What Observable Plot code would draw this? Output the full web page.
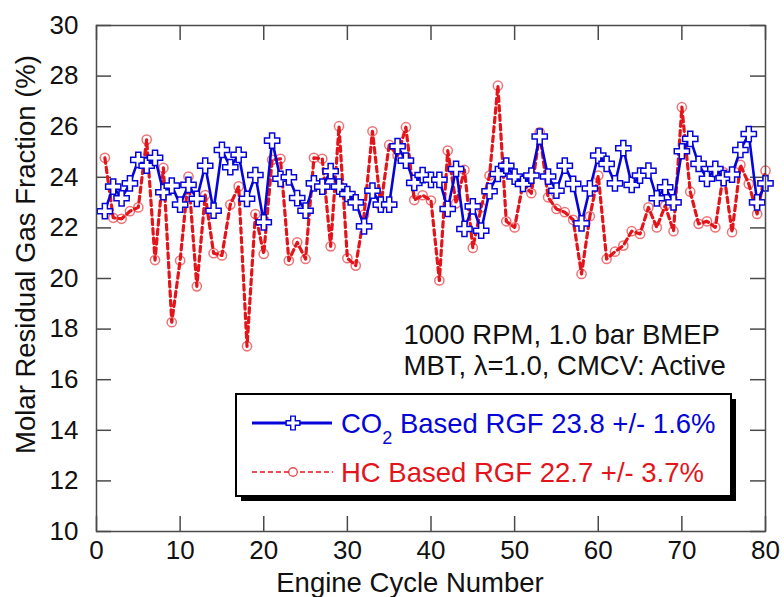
<!DOCTYPE html>
<html>
<head>
<meta charset="utf-8">
<script src="https://cdn.jsdelivr.net/npm/d3@7"></script>
<script src="https://cdn.jsdelivr.net/npm/@observablehq/plot@0.6"></script>
<style>
  html, body { margin: 0; padding: 0; background: #fff; }
  #wrap { position: relative; width: 784px; height: 597px; overflow: hidden; }
  #wrap svg { display: block; }
  #overlay { position: absolute; left: 0; top: 0; pointer-events: none; }
</style>
</head>
<body>
<div id="wrap"></div>
<script>
// ---- data ----
const cycles = [1,2,3,4,5,6,7,8,9,10,11,12,13,14,15,16,17,18,19,20,
  21,22,23,24,25,26,27,28,29,30,31,32,33,34,35,36,37,38,39,40,
  41,42,43,44,45,46,47,48,49,50,51,52,53,54,55,56,57,58,59,60,
  61,62,63,64,65,66,67,68,69,70,71,72,73,74,75,76,77,78,79,80];

const co2Rgf = [22.66, 23.63, 23.17, 23.76, 24.69, 24.46, 24.77, 23.41, 23.67, 22.92,
  23.70, 23.15, 24.46, 22.68, 25.08, 24.40, 24.89, 23.15, 24.09, 22.22,
  25.45, 23.94, 24.00, 23.18, 22.68, 23.76, 23.63, 24.24, 23.63, 23.34,
  23.01, 22.06, 23.47, 22.92, 22.92, 25.23, 24.66, 23.78, 24.09, 23.90,
  23.90, 22.75, 24.33, 21.96, 22.85, 21.89, 23.45, 24.13, 24.46, 24.03,
  23.74, 24.07, 25.61, 24.03, 23.47, 24.46, 23.74, 22.18, 23.56, 24.86,
  24.53, 23.76, 25.15, 23.70, 24.07, 24.26, 23.17, 23.61, 23.01, 25.03,
  25.52, 24.53, 23.94, 24.33, 23.97, 24.11, 25.08, 25.71, 23.01, 23.76];

const hcRgf = [24.77, 22.40, 22.36, 22.66, 22.81, 25.49, 20.73, 24.37, 18.27, 20.71,
  24.03, 19.69, 23.30, 21.00, 20.91, 22.92, 23.64, 17.32, 22.55, 20.97,
  24.69, 24.73, 20.71, 21.43, 20.77, 24.77, 24.73, 21.27, 26.02, 20.80,
  20.51, 22.53, 25.82, 22.88, 25.28, 24.86, 25.98, 23.10, 23.29, 23.08,
  19.92, 25.06, 22.97, 24.29, 21.21, 22.81, 24.07, 27.62, 22.26, 22.02,
  23.76, 23.37, 25.78, 23.21, 22.75, 22.62, 22.32, 20.18, 22.46, 24.07,
  20.77, 21.06, 21.30, 21.87, 21.76, 22.81, 22.02, 22.88, 21.87, 26.77,
  23.43, 22.16, 22.26, 22.02, 24.20, 21.83, 24.49, 23.74, 22.55, 24.26];

const xTicks = [0, 10, 20, 30, 40, 50, 60, 70, 80];
const yTicks = [10, 12, 14, 16, 18, 20, 22, 24, 26, 28, 30];
const xTitle = "Engine Cycle Number";
const yTitle = "Molar Residual Gas Fraction (%)";
const noteText = "1000 RPM, 1.0 bar BMEP\nMBT, \u03bb=1.0, CMCV: Active";
const co2Label = ["CO", "2", " Based RGF 23.8 +/- 1.6%"];
const hcLabel = "HC Based RGF 22.7 +/- 3.7%";

// ---- tables ----
const co2 = cycles.map((c, i) => ({cycle: c, rgf: co2Rgf[i]}));
const hc = cycles.map((c, i) => ({cycle: c, rgf: hcRgf[i]}));

const BLUE = "#0505d8";
const RED = "#e3151b";
const AXIS = "#4a4a4a";
const FONT = "'Liberation Sans', Arial, Helvetica, sans-serif";

const W = 784, H = 597, ML = 96, MR = 19, MT = 25, MB = 66;
const FW = W - ML - MR, FH = H - MT - MB;
const TICK = 15;

const chart = Plot.plot({
  width: W, height: H,
  marginLeft: ML, marginRight: MR, marginTop: MT, marginBottom: MB,
  style: {fontFamily: FONT, fontSize: "26px", color: "#111", background: "#fff"},
  x: {domain: [0, 80]},
  y: {domain: [10, 30]},
  marks: [
    // inward ticks on all four sides
    Plot.tickX(xTicks, {x: d => d, insetTop: FH - TICK, stroke: AXIS, strokeWidth: 1.5}),
    Plot.tickX(xTicks, {x: d => d, insetBottom: FH - TICK, stroke: AXIS, strokeWidth: 1.5}),
    Plot.tickY(yTicks, {y: d => d, insetRight: FW - TICK, stroke: AXIS, strokeWidth: 1.5}),
    Plot.tickY(yTicks, {y: d => d, insetLeft: FW - TICK, stroke: AXIS, strokeWidth: 1.5}),
    Plot.axisX(xTicks, {tickSize: 0, tickPadding: 9, fontSize: 26, label: null, fill: "#111"}),
    Plot.axisY(yTicks, {tickSize: 0, tickPadding: 18, fontSize: 26, label: null, fill: "#111"}),
    // HC series
    Plot.line(hc, {x: "cycle", y: "rgf", stroke: RED, strokeWidth: 3.2, strokeDasharray: "5.5,4"}),
    Plot.dot(hc, {x: "cycle", y: "rgf", r: 4.6, stroke: RED, strokeOpacity: 0.6, strokeWidth: 1.5, fill: "none"}),
    // CO2 series
    Plot.line(co2, {x: "cycle", y: "rgf", stroke: BLUE, strokeWidth: 2.6}),
    Plot.dot(co2, {x: "cycle", y: "rgf", symbol: "cross", r: 6.4, stroke: BLUE, strokeWidth: 1.5, fill: "#fff"}),
    Plot.frame({stroke: AXIS, strokeWidth: 1.5}),
    // titles
    Plot.text([xTitle], {text: d => d, frameAnchor: "bottom", dy: 60, dx: -21, fontSize: 27.5, fill: "#111"}),
    Plot.text([yTitle], {text: d => d, frameAnchor: "left", textAnchor: "middle", rotate: -90, dx: -70, dy: -24, fontSize: 27.5, fill: "#111"}),
    // annotation
    Plot.text([noteText], {text: d => d, frameAnchor: "top-left", textAnchor: "start", lineAnchor: "top",
      dx: 307, dy: 296, fontSize: 27.5, lineHeight: 1.13, fill: "#111"})
  ]
});

const wrap = document.getElementById("wrap");
wrap.appendChild(chart);

// ---- legend overlay ----
const svg = d3.select(wrap).append("svg")
  .attr("id", "overlay").attr("width", W).attr("height", H)
  .style("font-family", FONT);

const box = {x: 236, y: 394, w: 495, h: 102};
svg.append("rect").attr("x", box.x + 5).attr("y", box.y + 5).attr("width", box.w).attr("height", box.h).attr("fill", "#000");
svg.append("rect").attr("x", box.x).attr("y", box.y).attr("width", box.w).attr("height", box.h)
  .attr("fill", "#fff").attr("stroke", "#000").attr("stroke-width", 2);

// CO2 row
svg.append("line").attr("x1", 252).attr("x2", 332).attr("y1", 423).attr("y2", 423)
  .attr("stroke", BLUE).attr("stroke-width", 3);
svg.append("path").attr("transform", "translate(293,423)")
  .attr("d", d3.symbol(d3.symbolCross, 105)())
  .attr("fill", "#fff").attr("stroke", BLUE).attr("stroke-width", 1.4);
const t1 = svg.append("text").attr("x", 341).attr("y", 433).attr("fill", BLUE).attr("font-size", 27.5);
t1.append("tspan").text(co2Label[0]);
t1.append("tspan").attr("font-size", 18).attr("dy", 11).text(co2Label[1]);
t1.append("tspan").attr("dy", -11).text(co2Label[2]);

// HC row
svg.append("line").attr("x1", 252).attr("x2", 333).attr("y1", 472).attr("y2", 472)
  .attr("stroke", RED).attr("stroke-width", 1.6).attr("stroke-dasharray", "5,3");
svg.append("circle").attr("cx", 293).attr("cy", 472).attr("r", 4.3)
  .attr("fill", "#fff").attr("stroke", RED).attr("stroke-opacity", 0.75).attr("stroke-width", 1.4);
svg.append("text").attr("x", 341).attr("y", 482).attr("fill", RED).attr("font-size", 27.5).text(hcLabel);
</script>
</body>
</html>
